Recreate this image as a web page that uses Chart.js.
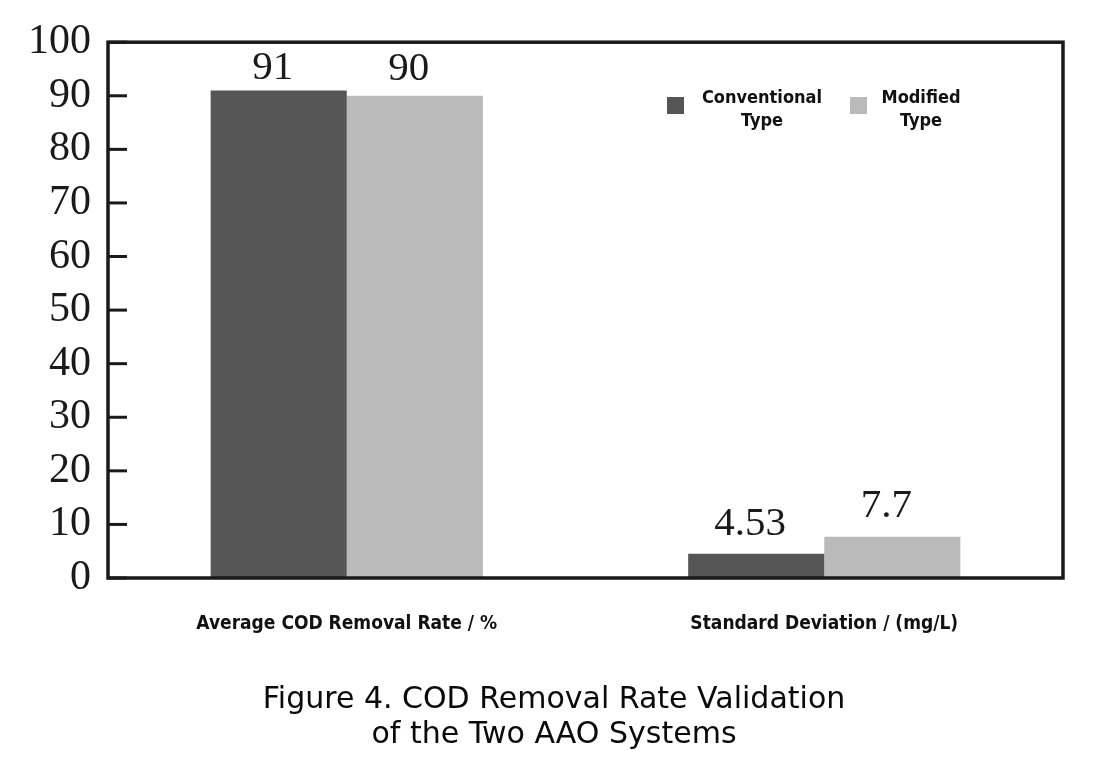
<!DOCTYPE html>
<html>
<head>
<meta charset="utf-8">
<script src="https://cdn.jsdelivr.net/npm/chart.js@4.4.1/dist/chart.umd.min.js"></script>
<style>
  html, body { margin: 0; padding: 0; background: #ffffff; }
  #wrap { width: 1100px; height: 770px; position: relative; }
</style>
</head>
<body>
<div id="wrap"><canvas id="c" width="1100" height="770"></canvas></div>
<script>
const categories = ['Average COD Removal Rate / %', 'Standard Deviation / (mg/L)'];
const conventional = [91, 4.53];
const modified = [90, 7.7];
const valueLabelsConv = ['91', '4.53'];
const valueLabelsMod = ['90', '7.7'];
const seriesNames = ['Conventional Type', 'Modified Type'];
const yTicks = [0, 10, 20, 30, 40, 50, 60, 70, 80, 90, 100];
const titleLines = ['Figure 4. COD Removal Rate Validation', 'of the Two AAO Systems'];

const SANS_C = '"DejaVu Sans Condensed", "DejaVu Sans", Verdana, sans-serif';

const frameAndTicks = {
  id: 'frameAndTicks',
  afterDatasetsDraw(chart) {
    const { ctx, chartArea: a } = chart;
    const y = chart.scales.y;
    ctx.save();
    ctx.strokeStyle = '#1a1a1a';
    ctx.lineWidth = 3.5;
    ctx.strokeRect(a.left, a.top, a.right - a.left, a.bottom - a.top);
    ctx.lineWidth = 3;
    yTicks.forEach(v => {
      const py = y.getPixelForValue(v);
      ctx.beginPath();
      ctx.moveTo(a.left, py);
      ctx.lineTo(a.left + 19, py);
      ctx.stroke();
    });
    // value labels
    ctx.fillStyle = '#1a1a1a';
    ctx.font = '41px "Liberation Serif", "Times New Roman", serif';
    ctx.textAlign = 'center';
    ctx.textBaseline = 'alphabetic';
    const labelSets = [valueLabelsConv, valueLabelsMod];
    const offsets = [[11, 19], [16, 20]];
    chart.data.datasets.forEach((ds, di) => {
      const meta = chart.getDatasetMeta(di);
      meta.data.forEach((bar, i) => {
        ctx.fillText(labelSets[di][i], bar.x - 6, bar.y - offsets[di][i]);
      });
    });
    // legend
    const legendPos = [{ sx: 667, tx: 762 }, { sx: 850, tx: 921 }];
    ctx.font = 'bold 18px ' + SANS_C;
    ctx.textBaseline = 'middle';
    ctx.textAlign = 'center';
    chart.data.datasets.forEach((ds, di) => {
      const p = legendPos[di];
      ctx.fillStyle = ds.backgroundColor;
      ctx.fillRect(p.sx, 97, 17, 17);
      ctx.fillStyle = '#111111';
      const lines = ds.label.split(' ');
      lines.forEach((ln, li) => ctx.fillText(ln, p.tx, 98 + li * 23));
    });
    // figure caption
    ctx.font = '30px "DejaVu Sans", Verdana, sans-serif';
    ctx.fillStyle = '#0a0a0a';
    titleLines.forEach((ln, li) => ctx.fillText(ln, 554, 700 + li * 35));
    ctx.restore();
  }
};

new Chart(document.getElementById('c'), {
  type: 'bar',
  data: {
    labels: categories,
    datasets: [
      { label: seriesNames[0], data: conventional, backgroundColor: '#565656', categoryPercentage: 0.57, barPercentage: 1.0 },
      { label: seriesNames[1], data: modified, backgroundColor: '#bababa', categoryPercentage: 0.57, barPercentage: 1.0 }
    ]
  },
  options: {
    responsive: false,
    animation: false,
    devicePixelRatio: 1,
    layout: { padding: { top: 42, right: 37, bottom: 87, left: 0 } },
    plugins: {
      legend: { display: false },
      tooltip: { enabled: false },
      title: { display: false }
    },
    scales: {
      x: {
        grid: { display: false },
        border: { display: false },
        ticks: {
          color: '#111111',
          font: { family: SANS_C, size: 19, weight: 'bold' },
          padding: 27,
          maxRotation: 0
        },
        afterFit(s) { s.height = 105; }
      },
      y: {
        min: 0,
        max: 100,
        grid: { display: false, tickLength: 0 },
        border: { display: false },
        afterBuildTicks(s) { s.ticks = yTicks.map(v => ({ value: v })); },
        ticks: {
          color: '#1a1a1a',
          font: { family: '"Liberation Serif", "Times New Roman", serif', size: 42 },
          padding: 17
        },
        afterFit(s) { s.width = 108; }
      }
    }
  },
  plugins: [frameAndTicks]
});
</script>
</body>
</html>
